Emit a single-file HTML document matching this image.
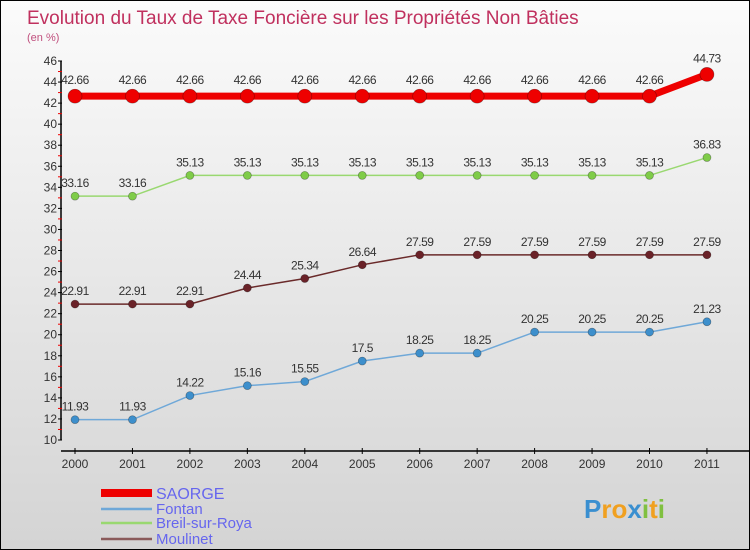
<!DOCTYPE html>
<html><head><meta charset="utf-8"><style>
body{margin:0}
#c{width:748px;height:548px;border:1px solid #000;background:linear-gradient(#fbfbfb,#d4d4d4);position:relative;overflow:hidden;font-family:"Liberation Sans",sans-serif}
</style></head><body>
<div id="c">
<svg id="s" width="748" height="548" style="position:absolute;left:0;top:0"></svg>
</div>
<script>
const years=[2000,2001,2002,2003,2004,2005,2006,2007,2008,2009,2010,2011];
const saorge=[42.66,42.66,42.66,42.66,42.66,42.66,42.66,42.66,42.66,42.66,42.66,44.73];
const fontan=[11.93,11.93,14.22,15.16,15.55,17.5,18.25,18.25,20.25,20.25,20.25,21.23];
const breil=[33.16,33.16,35.13,35.13,35.13,35.13,35.13,35.13,35.13,35.13,35.13,36.83];
const moulinet=[22.91,22.91,22.91,24.44,25.34,26.64,27.59,27.59,27.59,27.59,27.59,27.59];
const yTicks=[10,12,14,16,18,20,22,24,26,28,30,32,34,36,38,40,42,44,46];
const seriesNames=["SAORGE","Fontan","Breil-sur-Roya","Moulinet"];

const NS="http://www.w3.org/2000/svg",svg=document.getElementById('s');
function el(t,a,p){const e=document.createElementNS(NS,t);for(const k in a)e.setAttribute(k,a[k]);(p||svg).appendChild(e);return e;}
const X=i=>74+i*57.45, Y=v=>439-(v-10)*(379/36);
function fmt(v){return String(v);}

let t=el('text',{x:26,y:23,'font-size':19,fill:'#c0305e'});t.textContent="Evolution du Taux de Taxe Foncière sur les Propriétés Non Bâties";

t=el('text',{x:26,y:40,'font-size':11,fill:'#c0507e'});t.textContent="(en %)";


// y axis
let a=el('line',{x1:60,y1:Y(46),x2:60,y2:Y(10),stroke:'#000','stroke-width':1.5});

yTicks.forEach(v=>{el('line',{x1:57,x2:61,y1:Y(v),y2:Y(v),stroke:'#000'});
 if(v<46) el('line',{x1:57,x2:61,y1:Y(v+1),y2:Y(v+1),stroke:'#e00'});
 let l=el('text',{x:56,y:Y(v)+4,'font-size':12,'text-anchor':'end',fill:'#333'});l.textContent=v;
 });
// x axis
a=el('line',{x1:60,y1:450,x2:748,y2:450,stroke:'#000','stroke-width':1.5});

years.forEach((y,i)=>{el('line',{x1:X(i),x2:X(i),y1:447,y2:453,stroke:'#000'});
 let l=el('text',{x:X(i),y:467,'font-size':12,'text-anchor':'middle',fill:'#333'});l.textContent=y;
 });

function series(data,color,lw,r,dot,name){
 const g=el('g',{});
 el('polyline',{points:data.map((v,i)=>X(i)+','+Y(v)).join(' '),fill:'none',stroke:color,'stroke-width':lw},g);
 data.forEach((v,i)=>{const c=el('circle',{cx:X(i),cy:Y(v),r:r,fill:dot,stroke:'rgba(0,0,0,0.35)','stroke-width':0.7},g);
  
  const l=el('text',{x:X(i),y:Y(v)-(r+5),'font-size':12,'text-anchor':'middle',fill:'#333','letter-spacing':'-0.5'},g);l.textContent=fmt(v);
  });
}
series(fontan,'#6fa8d8',1.5,4,'#3d8fcc','fontan');
series(breil,'#99d870',1.5,4,'#7fcc48','breil');
series(moulinet,'#6a2a2a',1.5,4,'#6a2228','moulinet');
series(saorge,'#ee0000',7,7,'#ee0000','saorge');

// legend
const lc=[['#ee0000',8],['#6fa8d8',2.5],['#99d870',2.5],['#8a5a5a',2.5]];
seriesNames.forEach((n,i)=>{const y=[492,508,522,538][i];
 const g=el('g',{});
 el('line',{x1:100,x2:151,y1:y,y2:y,stroke:lc[i][0],'stroke-width':lc[i][1]},g);
 const l=el('text',{x:155,y:y+(i==0?6:5),'font-size':i==0?16:15,fill:'#6666ee'},g);l.textContent=n;});

// logo
const lg=el('text',{x:583,y:517,'font-size':26,'font-weight':'bold','font-family':'"Liberation Sans",sans-serif'});

[['P','#3a8fd0'],['r','#f0a020'],['o','#f0a020'],['x','#3a8fd0'],['i','#80c040'],['t','#f0a020'],['i','#80c040']].forEach(([c,f])=>{const s=el('tspan',{fill:f},lg);s.textContent=c;});
</script>
</body></html>
